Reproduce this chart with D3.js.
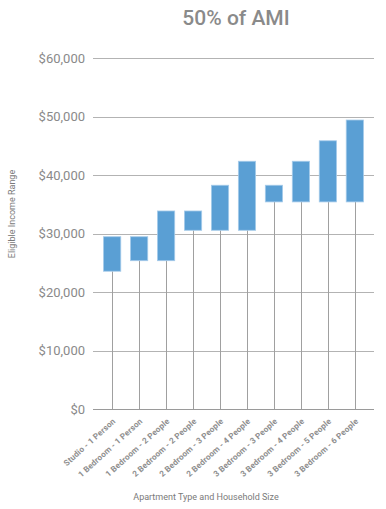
<!DOCTYPE html>
<html lang="en">
<head>
<meta charset="UTF-8">
<title>50% of AMI</title>
<style>
    body { margin: 0; background: #fff; font-family: "DejaVu Sans Condensed", "Roboto", sans-serif; }
    .grid line { stroke: #b3b3b3; stroke-width: 1px; shape-rendering: crispEdges; }
    .ylab { font-family: Roboto, sans-serif; font-size: 13px; fill: #8a8a8a; }
    .xlab { font-family: Roboto, sans-serif; font-size: 8.2px; font-weight: bold; fill: #8f8f8f; letter-spacing: 0.15px; }
    .title { font-family: Roboto, sans-serif; font-size: 21px; font-weight: 500; fill: #8a8a8a; }
    .axis-title { font-family: Roboto, sans-serif; font-size: 9px; fill: #7a7a7a; }
</style>
</head>
<body>
<div id="chart"></div>
<script src="https://d3js.org/d3.v7.min.js"></script>
<script>
    // categories and income range (low / high)
    const categories = [
        "Studio - 1 Person", "1 Bedroom - 1 Person", "1 Bedroom - 2 People",
        "2 Bedroom - 2 People", "2 Bedroom - 3 People", "2 Bedroom - 4 People",
        "3 Bedroom - 3 People", "3 Bedroom - 4 People", "3 Bedroom - 5 People",
        "3 Bedroom - 6 People"
    ];
    const lowIncome  = [23550, 25350, 25350, 30550, 30550, 30550, 35400, 35400, 35400, 35400];
    const highIncome = [29450, 29450, 33850, 33850, 38250, 42350, 38250, 42350, 45850, 49400];
    const yTicks = [0, 10000, 20000, 30000, 40000, 50000, 60000];

    const width = 386, height = 509;
    const plot = { left: 93, right: 374, top: 58, bottom: 409 };

    const svg = d3.select("#chart").append("svg")
        .attr("width", width)
        .attr("height", height);

    const y = d3.scaleLinear().domain([0, 60000]).range([plot.bottom, plot.top]);
    const x = d3.scaleBand().domain(categories)
        .range([plot.left, plot.right])
        .paddingInner(0.36)
        .paddingOuter(0.39);

    svg.append("text")
        .attr("class", "title")
        .attr("x", 236)
        .attr("y", 25)
        .attr("text-anchor", "middle")
        .text("50% of AMI");

    // gridlines
    const grid = svg.append("g").attr("class", "grid");
    grid.selectAll("line").data(yTicks).join("line")
        .attr("x1", plot.left).attr("x2", plot.right)
        .attr("y1", d => Math.round(y(d)) + 0.5)
        .attr("y2", d => Math.round(y(d)) + 0.5)
        .style("stroke", d => d === 0 ? "#9a9a9a" : "#b3b3b3");

    svg.selectAll(".ylab").data(yTicks).join("text")
        .attr("class", "ylab")
        .attr("x", 85)
        .attr("y", d => y(d) + 4.5)
        .attr("text-anchor", "end")
        .text(d => "$" + d3.format(",")(d));

    // stems from the bottom of each range down to $0
    svg.selectAll(".stem").data(categories).join("line")
        .attr("class", "stem")
        .attr("x1", d => Math.round(x(d) + x.bandwidth() / 2) + 0.5)
        .attr("x2", d => Math.round(x(d) + x.bandwidth() / 2) + 0.5)
        .attr("y1", (d, i) => y(lowIncome[i]))
        .attr("y2", y(0))
        .attr("stroke", "#a0a0a0")
        .attr("stroke-width", 1);

    svg.selectAll(".bar").data(categories).join("rect")
        .attr("class", "bar")
        .attr("x", d => x(d))
        .attr("width", x.bandwidth())
        .attr("y", (d, i) => y(highIncome[i]))
        .attr("height", (d, i) => y(lowIncome[i]) - y(highIncome[i]))
        .attr("fill", "#5a9fd4")
        .attr("stroke", "#a6cbea")
        .attr("stroke-width", 0.8);

    // rotated category labels
    svg.selectAll(".xlab").data(categories).join("text")
        .attr("class", "xlab")
        .attr("text-anchor", "end")
        .attr("transform", d => `translate(${x(d) + x.bandwidth() / 2 + 4},${plot.bottom + 13}) rotate(-42)`)
        .text(d => d);

    svg.append("text")
        .attr("class", "axis-title")
        .attr("x", 206)
        .attr("y", 500)
        .attr("text-anchor", "middle")
        .text("Apartment Type and Household Size");

    svg.append("text")
        .attr("class", "axis-title")
        .attr("transform", "translate(15,214) rotate(-90)")
        .attr("text-anchor", "middle")
        .text("Eligible Income Range");
</script>
</body>
</html>
